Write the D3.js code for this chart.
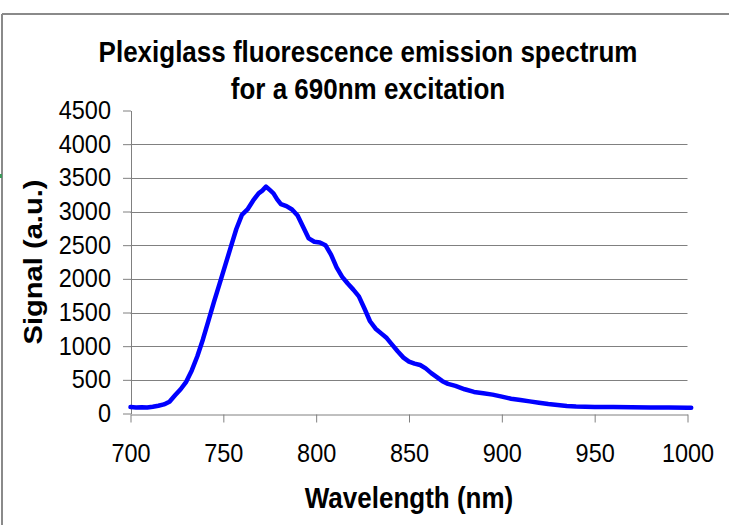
<!DOCTYPE html>
<html><head><meta charset="utf-8">
<script src="https://cdn.jsdelivr.net/npm/d3@7"></script>
<style>body{margin:0;background:#fff}svg{display:block}</style>
</head><body><svg id="c" width="729" height="525"></svg>
<script>
const wavelengths = [700,703,706,709,712,715,718,721,724,727,730,733,736,739,742,745,748,751,754,757,760,763,766,769,771,773,775,777,779,781,784,787,790,793,796,799,802,805,808,811,814,817,820,823,826,829,832,835,838,841,844,847,850,853,856,859,862,865,868,871,875,880,885,890,895,900,905,910,915,920,925,930,935,940,950,960,970,980,990,1000,1002];
const signal = [95,90,92,88,100,115,135,175,270,360,470,640,850,1100,1380,1660,1930,2200,2470,2740,2950,3030,3160,3270,3310,3370,3320,3270,3180,3110,3080,3030,2940,2770,2600,2550,2540,2500,2360,2170,2030,1930,1840,1740,1560,1370,1260,1190,1120,1020,920,830,770,740,720,670,600,540,480,440,410,360,320,300,280,250,220,200,180,160,140,125,112,105,98,95,92,90,88,85,85];
const xTicks = [700,750,800,850,900,950,1000];
const yTicks = [0,500,1000,1500,2000,2500,3000,3500,4000,4500];
const titleLines = ["Plexiglass fluorescence emission spectrum","for a 690nm excitation"];
const xTitle = "Wavelength (nm)";
const yTitle = "Signal (a.u.)";

const svg = d3.select("#c");
const FONT = "'Liberation Sans', Arial, sans-serif";
const STRETCH = 1.12;
svg.append("rect").attr("width",729).attr("height",525).attr("fill","#fff");
// outer frame
svg.append("line").attr("x1",2).attr("x2",729).attr("y1",14).attr("y2",14).attr("stroke","#8a8a8a").attr("stroke-width",2);
svg.append("line").attr("x1",2).attr("x2",2).attr("y1",14).attr("y2",525).attr("stroke","#8a8a8a").attr("stroke-width",2);
svg.append("rect").attr("x",0).attr("y",174).attr("width",2).attr("height",4).attr("fill","#3a9a5a");

const x = d3.scaleLinear().domain([700,1000]).range([130.5,687.5]);
const y = d3.scaleLinear().domain([0,4500]).range([413.5,110.5]);

// gridlines
svg.append("g").selectAll("line").data(yTicks.filter(v=>v>0 && v<4500)).join("line")
  .attr("x1",x(700)).attr("x2",x(1000)).attr("y1",d=>Math.round(y(d))+0.5).attr("y2",d=>Math.round(y(d))+0.5)
  .attr("stroke","#808080").attr("stroke-width",1);

const xAxis = svg.append("g").attr("transform",`translate(0,${Math.round(y(0))+0.5})`)
  .call(d3.axisBottom(x).tickValues(xTicks).tickSize(8).tickSizeOuter(0).tickFormat(d3.format("d")));
const yAxis = svg.append("g").attr("transform",`translate(${Math.round(x(700))},0)`)
  .call(d3.axisLeft(y).tickValues(yTicks).tickSize(8).tickSizeOuter(0).tickFormat(d3.format("d")));
[xAxis,yAxis].forEach(g=>{
  g.select(".domain").attr("stroke","#808080");
  g.selectAll(".tick line").attr("stroke","#808080");
  g.selectAll(".tick text").attr("fill","#000").style("font-family",FONT).style("font-size","23.5px");
});
xAxis.selectAll(".tick text").attr("y",null).attr("dy",null)
  .attr("transform",`translate(0,47) scale(1,${STRETCH})`);
yAxis.selectAll(".tick text").attr("x",null).attr("dy",null)
  .attr("transform",`translate(-20,8) scale(1,${STRETCH})`);

const line = d3.line().x((d,i)=>x(wavelengths[i])).y(d=>y(d));
svg.append("path").datum(signal).attr("d",line).attr("fill","none")
  .attr("stroke","#0000ff").attr("stroke-width",4.5).attr("stroke-linejoin","round").attr("stroke-linecap","round");

svg.selectAll("text.title").data(titleLines).join("text").attr("class","title")
  .attr("transform",(d,i)=>`translate(368,${62+i*37}) scale(1,${STRETCH})`).attr("text-anchor","middle")
  .style("font-family",FONT).style("font-weight","bold").style("font-size","26px").text(d=>d);
svg.append("text").attr("transform",`translate(409,508) scale(1,${STRETCH})`).attr("text-anchor","middle")
  .style("font-family",FONT).style("font-weight","bold").style("font-size","26px").text(xTitle);
svg.append("text").attr("transform",`translate(42,262) rotate(-90) scale(${STRETCH},1)`).attr("text-anchor","middle")
  .style("font-family",FONT).style("font-weight","bold").style("font-size","26px").text(yTitle);
</script></body></html>
